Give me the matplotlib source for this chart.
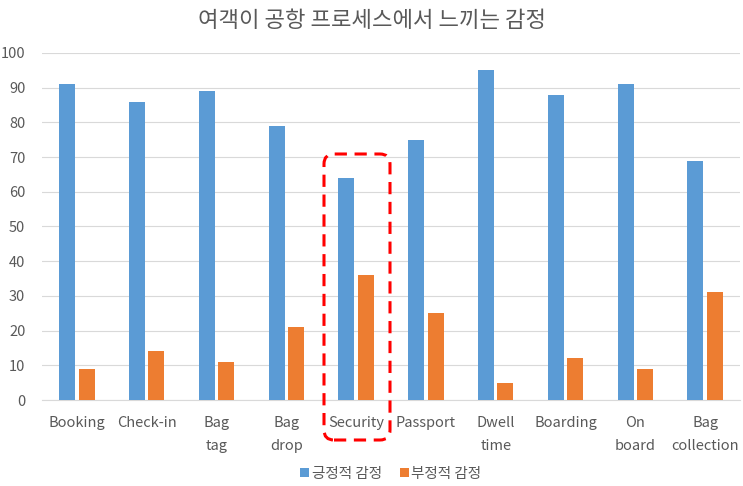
import numpy as np
import matplotlib.pyplot as plt
from matplotlib.patches import FancyBboxPatch
from matplotlib.transforms import IdentityTransform

plt.rcParams['font.family'] = ['Noto Sans CJK KR', 'DejaVu Sans']

categories = ['Booking', 'Check-in', 'Bag\ntag', 'Bag\ndrop', 'Security', 'Passport',
              'Dwell\ntime', 'Boarding', 'On\nboard', 'Bag\ncollection']
positive = [91, 86, 89, 79, 64, 75, 95, 88, 91, 69]
negative = [9, 14, 11, 21, 36, 25, 5, 12, 9, 31]
series_names = ['긍정적 감정', '부정적 감정']

grey = '#595959'
fig = plt.figure(figsize=(7.43, 4.86), dpi=100)
ax = fig.add_axes([42 / 743, 86 / 486, 698 / 743, 347 / 486])

x = np.arange(len(categories))
w = 0.23
ax.bar(x - 0.14, positive, width=w, color='#5B9BD5', label=series_names[0], zorder=3)
ax.bar(x + 0.14, negative, width=w, color='#ED7D31', label=series_names[1], zorder=3)

ax.set_xlim(-0.5, len(categories) - 0.5)
ax.set_ylim(0, 100)
ax.set_yticks(range(0, 101, 10))
ax.set_xticks(x)
ax.set_xticklabels(categories, fontsize=10.5, color=grey, linespacing=1.85, va='top')
ax.tick_params(axis='y', labelsize=10.5, labelcolor=grey, length=0, pad=12)
ax.tick_params(axis='x', length=0, pad=11.5)
ax.grid(axis='y', color='#D9D9D9', linewidth=0.8, zorder=0)
for s in ['top', 'right', 'left']:
    ax.spines[s].set_visible(False)
ax.spines['bottom'].set_color('#D9D9D9')

fig.suptitle('여객이 공항 프로세스에서 느끼는 감정', fontsize=16, color=grey, y=0.982)

ax.legend(loc='upper center', bbox_to_anchor=(0.5, -0.155), ncol=2, frameon=False,
          fontsize=10.5, labelcolor=grey, handlelength=0.6, handleheight=0.6,
          handletextpad=0.2, columnspacing=1.2)

# red dashed highlight around Security
box = FancyBboxPatch((324, 46), 66, 286, boxstyle='round,pad=0,rounding_size=10',
                     transform=IdentityTransform(), fill=False, edgecolor='#FF0000',
                     linewidth=2.2, linestyle=(0, (4, 2.5)), zorder=5)
fig.patches.append(box)

fig.savefig('out.png', dpi=100)
